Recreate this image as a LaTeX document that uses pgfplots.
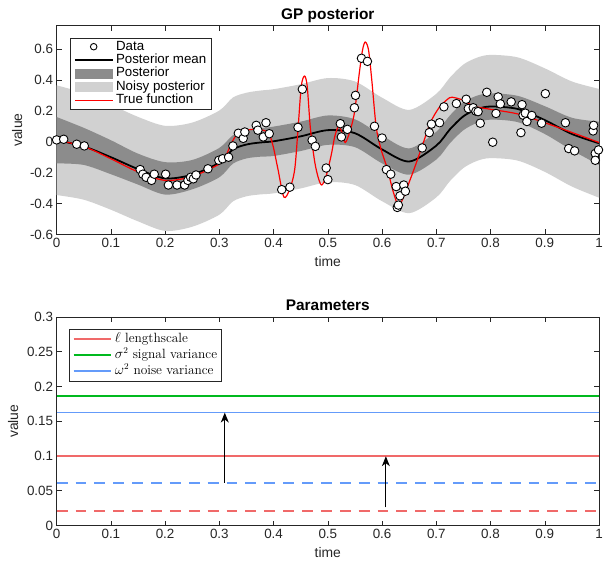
\documentclass[border=0pt]{standalone}
\usepackage{fontspec}
\usepackage{pgfplots}
\pgfplotsset{compat=1.18}
\usepackage{pgfplotstable}
\usepgfplotslibrary{fillbetween}
\usetikzlibrary{arrows.meta}
\newfontfamily\arial{Liberation Sans}

\definecolor{darkband}{gray}{0.55}
\definecolor{lightband}{gray}{0.82}
\definecolor{lsred}{RGB}{240,105,105}
\definecolor{sigreen}{RGB}{0,185,30}
\definecolor{nsblue}{RGB}{100,155,250}
\definecolor{axgray}{gray}{0.15}

% posterior mean and band edges
\pgfplotstableread{
t      m       du      dl      lu      ll
0.000  0.010   0.160  -0.140   0.365  -0.345
0.050 -0.030   0.090  -0.150   0.315  -0.375
0.100 -0.100   0.010  -0.210   0.240  -0.440
0.150 -0.177  -0.077  -0.277   0.161  -0.515
0.200 -0.237  -0.132  -0.342   0.103  -0.577
0.250 -0.213  -0.118  -0.308   0.124  -0.550
0.300 -0.135  -0.040  -0.230   0.202  -0.472
0.325 -0.050   0.042  -0.142   0.286  -0.386
0.350 -0.018   0.072  -0.108   0.317  -0.353
0.375 -0.005   0.087  -0.097   0.331  -0.341
0.400  0.003   0.098  -0.092   0.340  -0.334
0.450  0.035   0.130  -0.060   0.372  -0.302
0.500  0.075   0.170  -0.020   0.412  -0.262
0.550  0.055   0.145  -0.035   0.390  -0.280
0.600 -0.050   0.040  -0.140   0.285  -0.385
0.650 -0.128  -0.043  -0.213   0.206  -0.462
0.700 -0.025   0.065  -0.115   0.310  -0.360
0.725  0.080   0.170  -0.010   0.415  -0.255
0.750  0.165   0.255   0.075   0.500  -0.170
0.775  0.210   0.298   0.122   0.544  -0.124
0.800  0.228   0.313   0.143   0.562  -0.106
0.850  0.212   0.297   0.127   0.546  -0.122
0.900  0.140   0.230   0.050   0.475  -0.195
0.950  0.050   0.155  -0.055   0.390  -0.290
1.000 -0.010   0.130  -0.150   0.342  -0.362
}\bands

% true function
\pgfplotstableread{
t      f
0.000  0.010
0.050 -0.030
0.100 -0.110
0.150 -0.195
0.200 -0.250
0.250 -0.225
0.300 -0.144
0.311 -0.100
0.320 -0.027
0.330  0.037
0.342  0.070
0.355  0.078
0.371  0.080
0.390  0.059
0.399 -0.027
0.408 -0.177
0.419 -0.358
0.430 -0.305
0.439 -0.177
0.445  0.080
0.451  0.358
0.457  0.425
0.462  0.358
0.468  0.080
0.476 -0.134
0.483 -0.240
0.489 -0.280
0.497 -0.220
0.506 -0.090
0.513  0.037
0.520  0.100
0.526  0.059
0.532 -0.005
0.540  0.060
0.549  0.187
0.558  0.444
0.564  0.594
0.569  0.645
0.575  0.594
0.581  0.400
0.589  0.100
0.598 -0.048
0.610 -0.177
0.619 -0.305
0.628 -0.400
0.634 -0.400
0.643 -0.326
0.659 -0.177
0.674 -0.027
0.689  0.123
0.705  0.220
0.720  0.273
0.729  0.288
0.750  0.268
0.769  0.230
0.800  0.210
0.850  0.180
0.900  0.123
0.950  0.060
1.000 -0.005
}\truef

% observations
\pgfplotstableread{
t      v
0.000  0.012
0.013  0.016
0.037 -0.016
0.051 -0.027
0.154 -0.180
0.159 -0.210
0.165 -0.230
0.175 -0.250
0.180 -0.210
0.201 -0.210
0.206 -0.280
0.222 -0.280
0.236 -0.280
0.242 -0.250
0.247 -0.230
0.252 -0.240
0.257 -0.215
0.279 -0.175
0.299 -0.120
0.306 -0.110
0.317 -0.100
0.325 -0.027
0.335  0.055
0.344  0.022
0.347  0.063
0.368  0.106
0.371  0.075
0.381  0.031
0.386  0.123
0.392  0.052
0.415 -0.310
0.430 -0.294
0.445  0.093
0.453  0.340
0.471  0.010
0.477 -0.030
0.497 -0.170
0.500 -0.245
0.523  0.117
0.525  0.031
0.536  0.080
0.549  0.220
0.551  0.300
0.562  0.540
0.573  0.520
0.586  0.100
0.600  0.024
0.608 -0.180
0.616 -0.210
0.626 -0.290
0.628 -0.425
0.630 -0.410
0.633 -0.350
0.640 -0.280
0.643 -0.320
0.674 -0.040
0.687  0.059
0.691  0.114
0.706  0.123
0.714  0.226
0.737  0.247
0.755  0.275
0.759  0.215
0.768  0.220
0.773  0.198
0.777  0.195
0.781  0.120
0.793  0.320
0.804 -0.003
0.810  0.183
0.814  0.290
0.818  0.245
0.838  0.258
0.856  0.059
0.858  0.240
0.860  0.172
0.864  0.185
0.867  0.131
0.876  0.170
0.894  0.120
0.901  0.311
0.938  0.123
0.944 -0.044
0.955 -0.059
0.989  0.070
0.990  0.106
0.993 -0.076
0.993 -0.120
0.999 -0.053
}\obs

\pgfplotsset{
  matfig/.style={
    width=546pt, height=210pt, scale only axis,
    xmin=0, xmax=1,
    xtick={0,0.1,0.2,0.3,0.4,0.5,0.6,0.7,0.8,0.9,1},
    xticklabels={0,0.1,0.2,0.3,0.4,0.5,0.6,0.7,0.8,0.9,1},
    tick align=inside, major tick length=5pt,
    axis line style={axgray, line width=0.7pt},
    tick style={axgray, line width=0.6pt},
    tick label style={font=\arial\fontsize{13.5}{16}\selectfont, text=axgray},
    every axis title/.style={at={(axis description cs:0.5,1)}, anchor=base, yshift=6.5pt,
      font=\arial\bfseries\fontsize{15.5}{18}\selectfont},
    every axis x label/.style={at={(axis description cs:0.5,0)}, anchor=center, yshift=-27pt,
      font=\arial\fontsize{14}{16}\selectfont, text=axgray},
    xlabel={time}, ylabel={value},
    legend cell align=left,
  },
  ylab/.style={every axis y label/.style={at={(axis description cs:#1,0.5)}, rotate=90,
      anchor=center, font=\arial\fontsize{14}{16}\selectfont, text=axgray}},
  lineimg/.style={legend image code/.code={\draw[##1] (0pt,0pt) -- (38pt,0pt);}},
  boximg/.style={legend image code/.code={\fill[##1] (0pt,-4.5pt) rectangle (38pt,4.5pt);}},
  markimg/.style={legend image code/.code={\draw[##1] plot coordinates {(19pt,0pt)};}},
}

\begin{document}
\begin{tikzpicture}
\begin{axis}[matfig, ylab=-0.073, at={(0,0)}, anchor=north west,
  title={GP posterior},
  ymin=-0.6, ymax=0.75,
  ytick={-0.6,-0.4,-0.2,0,0.2,0.4,0.6},
  yticklabels={-0.6,-0.4,-0.2,0,0.2,0.4,0.6},
  legend style={at={(axis description cs:0.024,0.943)}, anchor=north west,
    draw=axgray, line width=0.6pt, fill=white,
    font=\arial\fontsize{13.4}{15}\selectfont,
    nodes={inner sep=0.6pt, text height=9.5pt, text depth=2.8pt},
    column sep=2pt, inner xsep=4pt, inner ysep=2pt},
]
\addplot[name path=LU, draw=none, smooth, forget plot] table[x=t, y=lu]{\bands};
\addplot[name path=LL, draw=none, smooth, forget plot] table[x=t, y=ll]{\bands};
\addplot[name path=DU, draw=none, smooth, forget plot] table[x=t, y=du]{\bands};
\addplot[name path=DL, draw=none, smooth, forget plot] table[x=t, y=dl]{\bands};
\addplot[lightband, forget plot] fill between[of=LU and LL];
\addplot[darkband, forget plot] fill between[of=DU and DL];
\addplot[black, line width=1.8pt, smooth, forget plot] table[x=t, y=m]{\bands};
\addplot[red, line width=1.2pt, smooth, tension=0.5, forget plot] table[x=t, y=f]{\truef};
\addplot[only marks, mark=*, mark size=4.3pt,
  mark options={fill=white, draw=black, line width=0.9pt}, forget plot]
  table[x=t, y=v]{\obs};

\addlegendimage{markimg, only marks, mark=o, mark size=3.3pt, black, line width=0.9pt}
\addlegendentry{Data}
\addlegendimage{lineimg, black, line width=1.8pt}
\addlegendentry{Posterior mean}
\addlegendimage{boximg, darkband}
\addlegendentry{Posterior}
\addlegendimage{boximg, lightband}
\addlegendentry{Noisy posterior}
\addlegendimage{lineimg, color=red, line width=1.4pt}
\addlegendentry{True function}
\end{axis}

\begin{axis}[matfig, ylab=-0.08, at={(0,-293pt)}, anchor=north west,
  title={Parameters},
  ymin=0, ymax=0.3,
  ytick={0,0.05,0.1,0.15,0.2,0.25,0.3},
  yticklabels={0,0.05,0.1,0.15,0.2,0.25,0.3},
  legend style={at={(axis description cs:0.022,0.943)}, anchor=north west,
    draw=axgray, line width=0.6pt, fill=white,
    font=\fontsize{13.5}{15}\selectfont,
    nodes={inner sep=0.6pt, text height=11pt, text depth=4pt},
    column sep=2pt, inner xsep=4pt, inner ysep=2pt},
]
\addplot[lineimg, color=lsred, line width=1.7pt] coordinates {(0,0.0996) (1,0.0996)};
\addlegendentry{$\ell$ lengthscale}
\addplot[lineimg, color=sigreen, line width=1.7pt] coordinates {(0,0.1865) (1,0.1865)};
\addlegendentry{$\sigma^2$ signal variance}
\addplot[lineimg, color=nsblue, line width=1.7pt] coordinates {(0,0.1624) (1,0.1624)};
\addlegendentry{$\omega^2$ noise variance}
\addplot[color=lsred, line width=1.7pt, dash pattern=on 11pt off 8pt, forget plot]
  coordinates {(0,0.0205) (1,0.0205)};
\addplot[color=nsblue, line width=1.7pt, dash pattern=on 11pt off 8pt, forget plot]
  coordinates {(0,0.0615) (1,0.0615)};
\addplot[black, line width=1pt, -{Stealth[length=10pt, width=8pt, inset=3pt]}, forget plot]
  coordinates {(0.31,0.0615) (0.31,0.1624)};
\addplot[black, line width=1pt, -{Stealth[length=10pt, width=8pt, inset=3pt]}, forget plot]
  coordinates {(0.607,0.026) (0.607,0.0996)};
\end{axis}
\pgfresetboundingbox
\path[use as bounding box] (-57pt,26pt) rectangle (552pt,-542pt);
\end{tikzpicture}
\end{document}
